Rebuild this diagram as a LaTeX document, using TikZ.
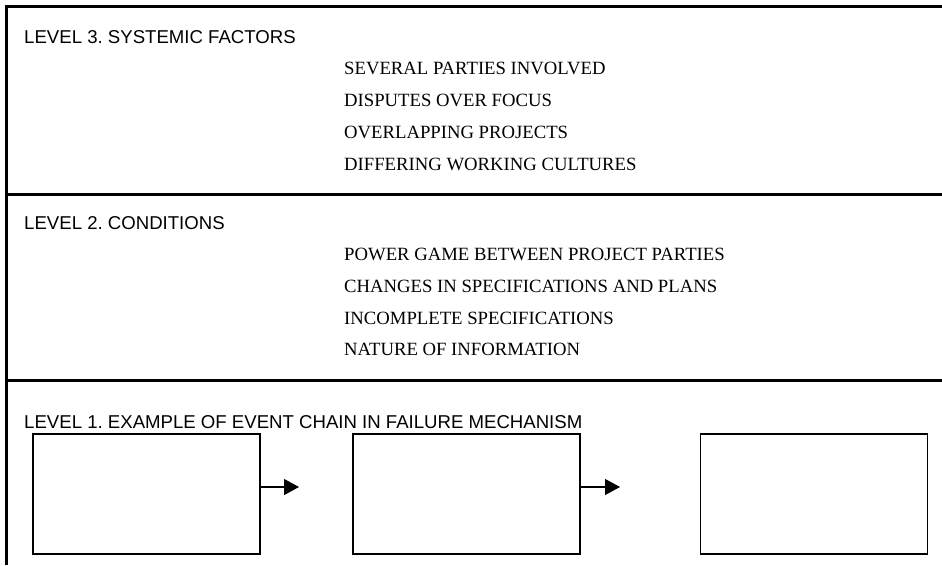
\documentclass[tikz,border=0pt]{standalone}
\usepackage{fontspec}
\setmainfont{Liberation Serif}
\newfontfamily\headfont{Liberation Sans}
\usetikzlibrary{arrows.meta}
\frenchspacing
\begin{document}
\begin{tikzpicture}[x=1pt,y=-1pt,
  frame/.style={line width=2.2pt,black},
  title/.style={anchor=base west,inner sep=0pt,font=\headfont\fontsize{18.6}{22}\selectfont},
  item/.style={anchor=base west,inner sep=0pt,font=\fontsize{18.7}{22}\selectfont},
  eventbox/.style={draw,line width=1.4pt,minimum width=227pt,minimum height=120pt,inner sep=0pt},
  arr/.style={line width=1.2pt,-{Triangle[length=15pt,width=16pt]}}]
\useasboundingbox (0,0) rectangle (942,565);
% frame of the three levels
\draw[frame] (6.5,565) -- (6.5,6.5) -- (942,6.5);
\draw[frame] (6.5,194.5) -- (942,194.5);
\draw[frame] (6.5,380.5) -- (942,380.5);
% level 3
\node[title] (t3) at (24,43) {LEVEL 3. SYSTEMIC FACTORS};
\node[item] (s1) at (344,74) {SEVERAL PARTIES INVOLVED};
\node[item] (s2) at (344,106) {DISPUTES OVER FOCUS};
\node[item] (s3) at (344,138) {OVERLAPPING PROJECTS};
\node[item] (s4) at (344,170) {DIFFERING WORKING CULTURES};
% level 2
\node[title] (t2) at (24,229) {LEVEL 2. CONDITIONS};
\node[item] (c1) at (344,260) {POWER GAME BETWEEN PROJECT PARTIES};
\node[item] (c2) at (344,292) {CHANGES IN SPECIFICATIONS AND PLANS};
\node[item] (c3) at (344,324) {INCOMPLETE SPECIFICATIONS};
\node[item] (c4) at (344,355) {NATURE OF INFORMATION};
% level 1
\node[title] (t1) at (24,428) {LEVEL 1. EXAMPLE OF EVENT CHAIN IN FAILURE MECHANISM};
\node[eventbox] (b1) at (146.5,494) {};
\node[eventbox] (b2) at (466.5,494) {};
\node[eventbox] (b3) at (814,494) {};
\coordinate (e1) at (299,487);
\coordinate (e2) at (620,487);
\draw[arr] (b1.east |- e1) -- (e1);
\draw[arr] (b2.east |- e2) -- (e2);
\end{tikzpicture}
\end{document}
